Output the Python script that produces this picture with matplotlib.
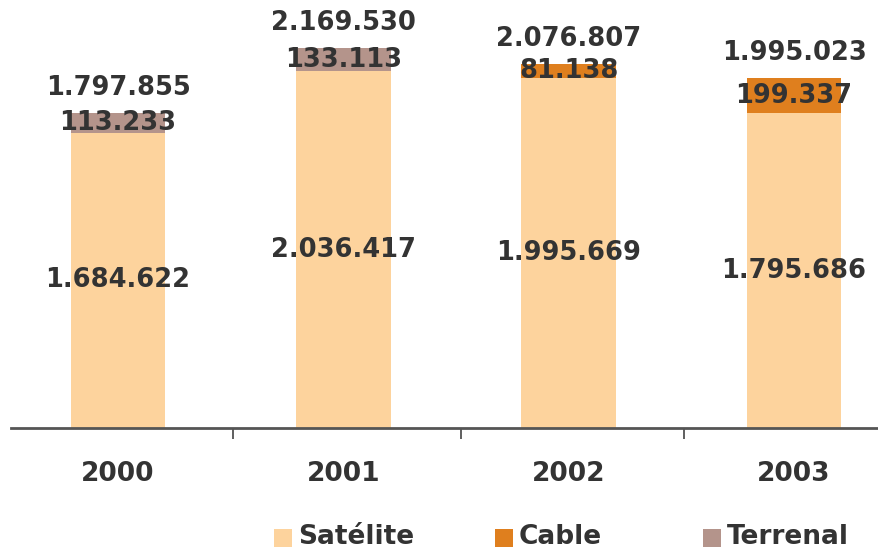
import numpy as np
import matplotlib
matplotlib.use("Agg")
import matplotlib.pyplot as plt
from matplotlib.patches import Rectangle

# data
years = ["2000", "2001", "2002", "2003"]
satelite = [1684622, 2036417, 1995669, 1795686]
cable = [0, 0, 81138, 199337]
terrenal = [113233, 133113, 0, 0]
totals = [1797855, 2169530, 2076807, 1995023]
series_names = ["Satélite", "Cable", "Terrenal"]

col_sat = "#FDD39D"
col_cable = "#DF7F1E"
col_terr = "#B4948B"
txt_col = "#333333"

W, H = 879, 550


def fmt(v):
    # thousands separated with dots
    return f"{v:,}".replace(",", ".")


fig = plt.figure(figsize=(W / 100, H / 100), dpi=100)
ax = fig.add_axes([11 / W, 122 / H, 1 - 11 / W, 428 / H])

x = np.arange(len(years))
w = 0.42
sat = np.array(satelite)
cab = np.array(cable)
ter = np.array(terrenal)

ax.bar(x, sat, w, color=col_sat, linewidth=0)
ax.bar(x, cab, w, bottom=sat, color=col_cable, linewidth=0)
ax.bar(x, ter, w, bottom=sat + cab, color=col_terr, linewidth=0)

lab = dict(ha="center", va="center", fontsize=18.5, fontweight="bold", color=txt_col)
for i in range(len(years)):
    ax.text(x[i], sat[i] / 2, fmt(satelite[i]), **lab)
    if cab[i] > 0:
        ax.text(x[i], sat[i] + cab[i] / 2, fmt(cable[i]), **lab)
    if ter[i] > 0:
        ax.text(x[i], sat[i] + cab[i] + ter[i] / 2, fmt(terrenal[i]), **lab)
    ax.annotate(fmt(totals[i]), (x[i], totals[i]), xytext=(0, 18),
                textcoords="offset points", **lab)

ax.set_xlim(-0.475, 3.377)
ax.set_ylim(0, 2.443e6)

for s in ["top", "right", "left"]:
    ax.spines[s].set_visible(False)
ax.spines["bottom"].set_color("#555555")
ax.spines["bottom"].set_linewidth(2)
ax.set_yticks([])

ax.set_xticks([0.51, 1.52, 2.51])
ax.set_xticklabels([])
ax.tick_params(axis="x", direction="out", length=8, width=1.2, color="#444444")
ax.set_xticks(x, minor=True)
ax.set_xticklabels(years, minor=True, fontsize=19, fontweight="bold", color=txt_col)
ax.tick_params(axis="x", which="minor", length=0, pad=24)

# legend drawn by hand: square + label
leg_x = [274, 495, 703]
for name, col, lx in zip(series_names, [col_sat, col_cable, col_terr], leg_x):
    fig.patches.append(Rectangle((lx / W, (H - 547) / H), 18 / W, 18 / H,
                                 transform=fig.transFigure, color=col, linewidth=0))
    fig.text((lx + 24) / W, (H - 537) / H, name, ha="left", va="center",
             fontsize=19, fontweight="bold", color=txt_col)

fig.savefig("out.png", dpi=100)
